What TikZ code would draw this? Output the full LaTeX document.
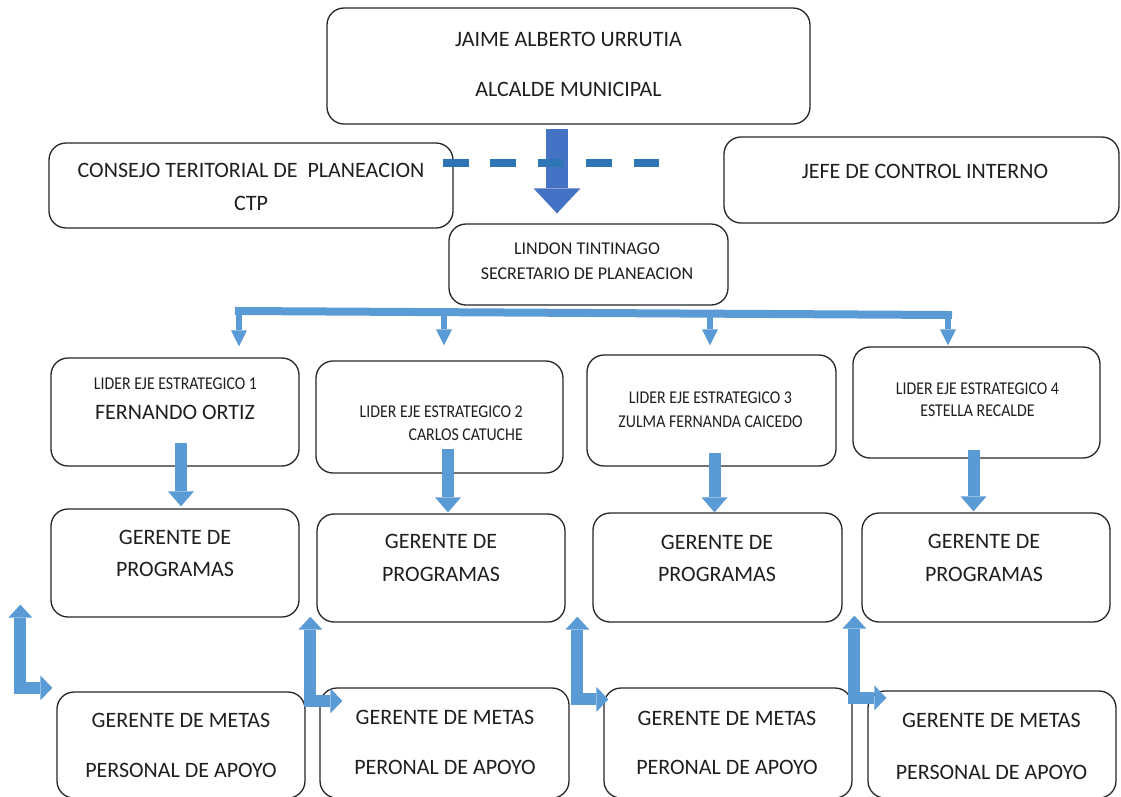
\documentclass[tikz,border=0pt]{standalone}
\usepackage{fontspec}
\setmainfont{Carlito}
\newfontfamily\narrowfont[FakeStretch=0.88]{Carlito}
\usetikzlibrary{arrows.meta,calc}
\definecolor{boxline}{HTML}{262626}
\definecolor{lightarrow}{HTML}{5B9BD5}
\definecolor{bigblue}{HTML}{4472C4}
\definecolor{dashblue}{HTML}{2E75B6}
\newcommand\orgbox[5]{\node[orgnode, minimum width={(#4-#2)*1pt}, minimum height={(#5-#3)*1pt}] (#1) at ({(#2+#4)/2},{(#3+#5)/2}) {};}
\begin{document}
\begin{tikzpicture}[x=1pt,y=-1pt,
  orgnode/.style={draw=boxline, line width=1.3pt, rounded corners=17pt, inner sep=0pt, fill=white},
  txt/.style={inner sep=0pt, align=center, text=black!88},
  bigtxt/.style={txt, font=\fontsize{22}{#1}\selectfont},
  smalltxt/.style={txt, font=\narrowfont\fontsize{18}{#1}\selectfont},
  bus/.style={draw=lightarrow, line width=8pt, line cap=rect},
  stemarrow/.style={draw=lightarrow, line width=6pt, -{Triangle[length=16pt,width=16pt,line width=0pt]}},
  downarrow/.style={draw=lightarrow, line width=12pt, -{Triangle[length=15pt,width=26pt,line width=0pt]}},
  bigarrow/.style={draw=bigblue, line width=22pt, -{Triangle[length=25pt,width=47pt,line width=0pt]}},
  bentarrow/.style={draw=lightarrow, line width=12pt, line join=miter,
     {Triangle[length=13pt,width=24pt,line width=0pt]}-{Triangle[length=12pt,width=25pt,line width=0pt]}},
  dashline/.style={draw=dashblue, line width=8pt, dash pattern=on 26pt off 21.75pt}
]
\useasboundingbox (0,0) rectangle (1121,796);
\clip (0,0) rectangle (1121,796);
\fill[white] (0,0) rectangle (1121,796);

% boxes
\orgbox{jaime}{327}{8}{810}{124}
\orgbox{consejo}{49}{143}{453}{228}
\orgbox{jefe}{724}{137}{1119}{223}
\orgbox{lindon}{449}{224}{728}{305}
\orgbox{l1}{51}{358}{299}{466}
\orgbox{l2}{316}{361}{563}{473}
\orgbox{l3}{587}{355}{836}{466}
\orgbox{l4}{853}{347}{1100}{458}
\orgbox{g1}{51}{509}{299}{617}
\orgbox{g2}{317}{514}{565}{622}
\orgbox{g3}{593}{513}{842}{622}
\orgbox{g4}{862}{513}{1110}{622}
\orgbox{m1}{57}{692}{305}{798}
\orgbox{m2}{320}{688}{569}{798}
\orgbox{m3}{604}{688}{852}{798}
\orgbox{m4}{868}{691}{1116}{798}

% texts
\node[bigtxt=50.5] (jaimet) at (568.5,64.25) {JAIME ALBERTO URRUTIA\\ALCALDE MUNICIPAL};
\node[bigtxt=32.5] (consejot) at (251,186.75) {CONSEJO TERITORIAL DE\ \ PLANEACION\\CTP};
\node[bigtxt=24] (jefet) at (925,171) {JEFE DE CONTROL INTERNO};
\node[txt, font=\fontsize{18}{24.5}\selectfont] (lindont) at (587,261.25) {LINDON TINTINAGO\\SECRETARIO DE PLANEACION};
\node[smalltxt=22] (l1ta) at (175.5,383.5) {LIDER EJE ESTRATEGICO 1};
\node[bigtxt=24] (l1tb) at (175,412.5) {FERNANDO ORTIZ};
\node[smalltxt=23, align=right, anchor=east] (l2t) at (523,423) {LIDER EJE ESTRATEGICO 2\\CARLOS CATUCHE};
\node[smalltxt=24] (l3t) at (710.5,409.5) {LIDER EJE ESTRATEGICO 3\\ZULMA FERNANDA CAICEDO};
\node[smalltxt=22.5] (l4t) at (977.5,399.75) {LIDER EJE ESTRATEGICO 4\\ESTELLA RECALDE};
\node[bigtxt=32] (g1t) at (175,553.5) {GERENTE DE\\PROGRAMAS};
\node[bigtxt=32.5] (g2t) at (441,557.75) {GERENTE DE\\PROGRAMAS};
\node[bigtxt=32.5] (g3t) at (717,558.25) {GERENTE DE\\PROGRAMAS};
\node[bigtxt=32.5] (g4t) at (984,558) {GERENTE DE\\PROGRAMAS};
\node[bigtxt=50] (m1t) at (181,745) {GERENTE DE METAS\\PERSONAL DE APOYO};
\node[bigtxt=50] (m2t) at (445,742) {GERENTE DE METAS\\PERONAL DE APOYO};
\node[bigtxt=49] (m3t) at (727,743) {GERENTE DE METAS\\PERONAL DE APOYO};
\node[bigtxt=52] (m4t) at (991.5,746.5) {GERENTE DE METAS\\PERSONAL DE APOYO};

% alcalde -> secretario
\draw[bigarrow] ($(jaime.south)+(-11.5,4)$) -- ($(lindon.north)+(-31.5,-10)$);
% dashed link CTP
\coordinate (dashend) at (659,163);
\draw[dashline] ($(consejo.east)+(-11,-22.5)$) -- (dashend);

% bus from secretario
\coordinate (bus1) at (239,311);
\coordinate (bus2) at (444,312.2);
\coordinate (bus3) at (710,313.7);
\coordinate (bus4) at (948,315);
\draw[bus] (bus1) -- (bus4);
\draw[stemarrow] (bus1) -- ($(l1.north)+(64,-11)$);
\draw[stemarrow] (bus2) -- ($(l2.north)+(4.5,-15)$);
\draw[stemarrow] (bus3) -- ($(l3.north)+(-1.5,-9)$);
\draw[stemarrow] (bus4) -- ($(l4.north)+(-28.5,-1)$);

% lider -> gerente de programas
\draw[downarrow] ($(l1.south)+(6,-24)$) -- ($(g1.north)+(6,-2)$);
\draw[downarrow] ($(l2.south)+(8.5,-25)$) -- ($(g2.north)+(7,-1)$);
\draw[downarrow] ($(l3.south)+(3,-14)$) -- ($(g3.north)+(-3,0)$);
\draw[downarrow] ($(l4.south)+(-3,-9)$) -- ($(g4.north)+(-12.5,-1)$);

% gerente de programas <-> gerente de metas
\draw[bentarrow] ($(g1.south west)+(-30,-13)$) |- ($(m1.north west)+(-4,-3.5)$);
\draw[bentarrow] ($(g2.south west)+(-6,-6)$) |- ($(m2.north west)+(23,13.5)$);
\draw[bentarrow] ($(g3.south west)+(-15,-6)$) |- ($(m3.north west)+(5,12)$);
\draw[bentarrow] ($(g4.south west)+(-7,-7)$) |- ($(m4.north west)+(19,7.5)$);
\end{tikzpicture}
\end{document}
